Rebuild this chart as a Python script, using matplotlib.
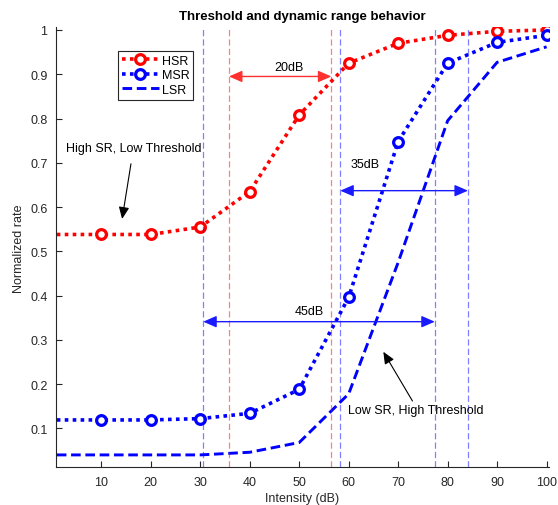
import matplotlib
matplotlib.use("Agg")
import matplotlib.pyplot as plt

plt.rcParams['font.family'] = ['Liberation Sans', 'DejaVu Sans']

# intensity levels (dB); first point is the left edge of the plot
intensity = [1, 10, 20, 30, 40, 50, 60, 70, 80, 90, 100]
hsr = [0.538, 0.538, 0.538, 0.555, 0.635, 0.808, 0.925, 0.970, 0.988, 0.997, 1.000]
msr = [0.119, 0.119, 0.119, 0.122, 0.134, 0.188, 0.396, 0.748, 0.925, 0.972, 0.988]
lsr = [0.040, 0.040, 0.040, 0.040, 0.046, 0.068, 0.178, 0.475, 0.795, 0.927, 0.962]

# threshold / saturation markers (dB)
blue_marks = [30.6, 58.3, 77.4, 84.1]
red_marks = [35.8, 56.5]

# dynamic range arrows: (start, end, y, label, label_x, label_y, colour)
ranges = [
    (35.8, 56.5, 0.895, '20dB', 48.0, 0.917, '#ff3030'),
    (58.3, 84.1, 0.637, '35dB', 63.3, 0.697, '#1a1aff'),
    (30.6, 77.4, 0.341, '45dB', 52.0, 0.366, '#1a1aff'),
]

fs = 9

fig = plt.figure(figsize=(5.58, 5.06), dpi=100)
ax = fig.add_axes([0.100, 0.0745, 0.884, 0.8695])

dot = (0, (1, 1.2))
ax.plot(intensity, hsr, color='red', lw=2.6, ls=dot, dash_capstyle='butt',
        marker='o', ms=7, mew=2.3, mfc='white', markevery=range(1, 11), label='HSR')
ax.plot(intensity, msr, color='blue', lw=2.6, ls=dot, dash_capstyle='butt',
        marker='o', ms=7, mew=2.3, mfc='white', markevery=range(1, 11), label='MSR')
ax.plot(intensity, lsr, color='blue', lw=2.1, ls=(0, (3.3, 1.6)), dash_capstyle='butt',
        label='LSR')

for xv in blue_marks:
    ax.axvline(xv, color='blue', lw=0.9, alpha=0.5, ls=(0, (5, 2.5)))
for xv in red_marks:
    ax.axvline(xv, color='red', lw=0.9, alpha=0.5, ls=(0, (5, 2.5)))

for x0, x1, yv, lab, lx, ly, col in ranges:
    ax.annotate('', xy=(x0, yv), xytext=(x1, yv),
                arrowprops=dict(arrowstyle='<|-|>,head_length=0.8,head_width=0.35',
                                color=col, lw=1.0, shrinkA=0, shrinkB=0))
    ax.text(lx, ly, lab, fontsize=fs, ha='center', va='center', color='black')

ax.annotate('High SR, Low Threshold', xy=(14.2, 0.573), xytext=(16.5, 0.733),
            fontsize=fs, ha='center', va='center',
            arrowprops=dict(arrowstyle='-|>,head_length=0.8,head_width=0.35',
                            color='black', lw=0.8, shrinkA=5, shrinkB=0))
ax.annotate('Low SR, High Threshold', xy=(67.0, 0.273), xytext=(59.8, 0.142),
            fontsize=fs, ha='left', va='center',
            arrowprops=dict(arrowstyle='-|>,head_length=0.8,head_width=0.35',
                            color='black', lw=0.8, shrinkA=0, shrinkB=0,
                            relpos=(0.49, 1.0)))

ax.set_xlim(0.8, 100.5)
ax.set_ylim(0.012, 1.006)
ax.set_xticks(range(10, 101, 10))
ax.set_yticks([0.1, 0.2, 0.3, 0.4, 0.5, 0.6, 0.7, 0.8, 0.9, 1.0])
ax.set_yticklabels(['0.1', '0.2', '0.3', '0.4', '0.5', '0.6', '0.7', '0.8', '0.9', '1'])
ax.tick_params(direction='in', length=4, labelsize=fs, colors='#262626', width=0.8, pad=6)
for s in ['top', 'right']:
    ax.spines[s].set_visible(False)
for s in ['left', 'bottom']:
    ax.spines[s].set_color('#262626')
    ax.spines[s].set_linewidth(0.8)

ax.set_xlabel('Intensity (dB)', fontsize=fs, color='#262626', labelpad=3)
ax.set_ylabel('Normalized rate', fontsize=fs, color='#262626', labelpad=4)
ax.set_title('Threshold and dynamic range behavior', fontsize=9.5, fontweight='bold', pad=6)

leg = ax.legend(loc='upper left', bbox_to_anchor=(0.126, 0.946), borderaxespad=0,
                fontsize=fs, handlelength=3.0, handletextpad=0.2, labelspacing=0.2,
                fancybox=False, framealpha=1, borderpad=0.3)
leg.get_frame().set_edgecolor('#262626')
leg.get_frame().set_linewidth(0.8)

fig.savefig('out.png', dpi=100)
